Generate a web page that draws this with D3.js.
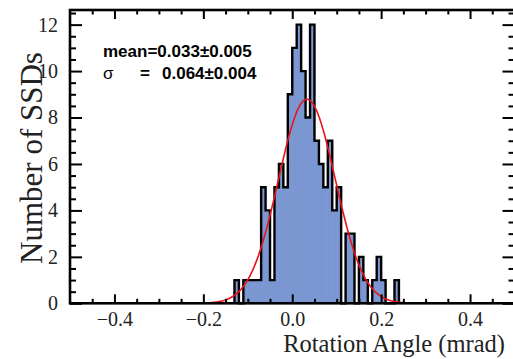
<!DOCTYPE html>
<html>
<head>
<meta charset="utf-8">
<script src="https://cdn.jsdelivr.net/npm/d3@7"></script>
<style>
  body { margin: 0; background: #fff; }
  svg { display: block; }
</style>
</head>
<body>
<div id="chart"></div>
<script>
// histogram bins (lower edge, mrad) and counts
const binLow = [-0.13, -0.12, -0.11, -0.10, -0.09, -0.08, -0.07, -0.06, -0.05, -0.04,
  -0.03, -0.02, -0.01, 0.00, 0.01, 0.02, 0.03, 0.04, 0.05, 0.06,
  0.07, 0.08, 0.09, 0.10, 0.11, 0.12, 0.13, 0.14, 0.15, 0.16,
  0.17, 0.18, 0.19, 0.20, 0.21, 0.22, 0.23];
const counts = [1, 0, 1, 1, 1, 1, 5, 4, 1, 5,
  6, 5, 9, 11, 12, 10, 8, 12, 7, 6,
  5, 7, 4, 5, 0, 3, 3, 0, 2, 1,
  0, 1, 2, 1, 0, 0, 1];
const binWidth = 0.01;

// gaussian fit
const fitMean = 0.033;
const fitSigma = 0.064;
const fitRange = [-0.2, 0.25];

const xTicks = [-0.4, -0.2, 0.0, 0.2, 0.4];
const yTicks = [0, 2, 4, 6, 8, 10, 12];

const width = 513, height = 359;
const plotLeft = 70, plotTop = 10, plotBottom = 303.3, plotRight = 514.5;

const svg = d3.select("#chart").append("svg")
  .attr("width", width)
  .attr("height", height);

const x = d3.scaleLinear().domain([-0.5, 0.5]).range([plotLeft, plotRight]);
const y = d3.scaleLinear().domain([0, 12.63]).range([plotBottom, plotTop]);

const bins = binLow.map((lo, i) => ({ x0: lo, x1: lo + binWidth, n: counts[i] }));

// bars (thin stroke in the fill colour hides seams between neighbours)
svg.append("g")
  .selectAll("rect")
  .data(bins.filter(d => d.n > 0))
  .enter()
  .append("rect")
  .attr("x", d => x(d.x0))
  .attr("y", d => y(d.n))
  .attr("width", d => x(d.x1) - x(d.x0))
  .attr("height", d => y(0) - y(d.n))
  .attr("fill", "#7b97d2")
  .attr("stroke", "#7b97d2")
  .attr("stroke-width", 0.8);

// step outline
const pts = [[bins[0].x0, 0]];
bins.forEach(d => { pts.push([d.x0, d.n]); pts.push([d.x1, d.n]); });
pts.push([bins[bins.length - 1].x1, 0]);
svg.append("path")
  .datum(pts)
  .attr("fill", "none")
  .attr("stroke", "#000")
  .attr("stroke-width", 2.4)
  .attr("stroke-linejoin", "miter")
  .attr("d", d3.line().x(d => x(d[0])).y(d => y(d[1])));

// fit curve
const total = d3.sum(counts);
const amp = total * binWidth / (fitSigma * Math.sqrt(2 * Math.PI));
const curve = d3.range(fitRange[0], fitRange[1] + 1e-9, 0.002)
  .map(v => [v, amp * Math.exp(-0.5 * Math.pow((v - fitMean) / fitSigma, 2))]);
svg.append("path")
  .datum(curve)
  .attr("fill", "none")
  .attr("stroke", "#e8141a")
  .attr("stroke-width", 1.6)
  .attr("d", d3.line().x(d => x(d[0])).y(d => y(d[1])).curve(d3.curveBasis));

// axes: ticks inward on all four sides
const fmt = d3.format(".1f");
const xMinor = d3.range(-0.45, 0.5, 0.05).filter(v => Math.abs(Math.round(v * 20) % 4) !== 0);
const yMinor = d3.range(0.5, 12.6, 0.5).filter(v => v % 2 !== 0);

function styleAxis(g) {
  g.select(".domain").remove();
  g.selectAll("line").attr("stroke", "#000").attr("stroke-width", 2);
}

svg.append("g").attr("transform", `translate(0,${plotBottom})`)
  .call(d3.axisBottom(x).tickValues(xTicks).tickSize(-9).tickPadding(9).tickFormat(d => fmt(d).replace("-", "\u2212")))
  .call(styleAxis)
  .selectAll("text")
  .attr("font-family", "Liberation Serif")
  .attr("font-size", 20)
  .attr("fill", "#222");
svg.append("g").attr("transform", `translate(0,${plotBottom})`)
  .call(d3.axisBottom(x).tickValues(xMinor).tickSize(-4.5).tickFormat(""))
  .call(styleAxis);
svg.append("g").attr("transform", `translate(0,${plotTop})`)
  .call(d3.axisTop(x).tickValues(xTicks).tickSize(-9).tickFormat(""))
  .call(styleAxis);
svg.append("g").attr("transform", `translate(0,${plotTop})`)
  .call(d3.axisTop(x).tickValues(xMinor).tickSize(-4.5).tickFormat(""))
  .call(styleAxis);

svg.append("g").attr("transform", `translate(${plotLeft},0)`)
  .call(d3.axisLeft(y).tickValues(yTicks).tickSize(-12).tickPadding(12).tickFormat(d3.format("d")))
  .call(styleAxis)
  .selectAll("text")
  .attr("font-family", "Liberation Serif")
  .attr("font-size", 20)
  .attr("fill", "#222");
svg.append("g").attr("transform", `translate(${plotLeft},0)`)
  .call(d3.axisLeft(y).tickValues(yMinor).tickSize(-6).tickFormat(""))
  .call(styleAxis);
svg.append("g").attr("transform", `translate(${plotRight},0)`)
  .call(d3.axisRight(y).tickValues(yTicks).tickSize(-12).tickFormat(""))
  .call(styleAxis);
svg.append("g").attr("transform", `translate(${plotRight},0)`)
  .call(d3.axisRight(y).tickValues(yMinor).tickSize(-6).tickFormat(""))
  .call(styleAxis);

// frame
svg.append("rect")
  .attr("x", plotLeft).attr("y", plotTop)
  .attr("width", plotRight - plotLeft).attr("height", plotBottom - plotTop)
  .attr("fill", "none")
  .attr("stroke", "#000")
  .attr("stroke-width", 2.6);

// axis titles
svg.append("text")
  .attr("x", 505).attr("y", 352)
  .attr("text-anchor", "end")
  .attr("font-family", "Liberation Serif")
  .attr("font-size", 24.5)
  .attr("fill", "#222")
  .text("Rotation Angle (mrad)");

svg.append("text")
  .attr("transform", "translate(42,158) rotate(-90)")
  .attr("text-anchor", "middle")
  .attr("font-family", "Liberation Serif")
  .attr("font-size", 31)
  .attr("fill", "#222")
  .text("Number of SSDs");

// fit legend
const leg = svg.append("g")
  .attr("font-family", "Liberation Sans")
  .attr("font-size", 17)
  .attr("font-weight", "bold")
  .attr("fill", "#000");
leg.append("text").attr("x", 103).attr("y", 57).text(`mean=${fitMean.toFixed(3)}\u00b10.005`);
leg.append("text").attr("x", 103).attr("y", 79).attr("font-weight", "normal").text("\u03c3");
leg.append("text").attr("x", 140).attr("y", 79).text("=");
leg.append("text").attr("x", 162).attr("y", 79).text(`${fitSigma.toFixed(3)}\u00b10.004`);
</script>
</body>
</html>
